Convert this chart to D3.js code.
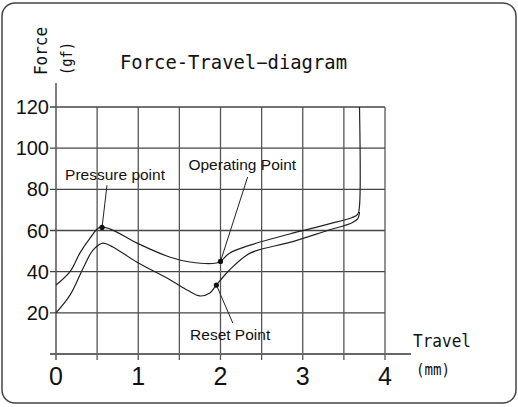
<!DOCTYPE html>
<html>
<head>
<meta charset="utf-8">
<script src="https://cdn.jsdelivr.net/npm/d3@7"></script>
<style>
  body { margin: 0; background: #fff; }
  text { fill: #111; }
</style>
</head>
<body>
<div id="chart"></div>
<script>
// values (travel in mm, force in gf)
let xTicks = [0, 1, 2, 3, 4]
let yTicks = [20, 40, 60, 80, 100, 120]
let xGrid = [0.5, 1, 1.5, 2, 2.5, 3, 3.5, 4]

let pressTravel = [0, 0.17, 0.29, 0.41, 0.53, 0.66, 0.98, 1.39, 1.63, 1.95, 2.0, 2.11, 2.36, 2.84, 3.3, 3.6, 3.67, 3.69, 3.69]
let pressForce = [33.5, 40, 49, 56, 61.5, 60.7, 54, 47, 44.7, 44.2, 45, 49, 52.9, 58.3, 63, 66.3, 68, 72, 120]

let releaseTravel = [0, 0.17, 0.33, 0.45, 0.57, 0.69, 0.98, 1.39, 1.6, 1.75, 1.87, 1.95, 2.11, 2.36, 2.84, 3.3, 3.6, 3.67, 3.69]
let releaseForce = [20, 28.6, 41.7, 50.5, 53.9, 52, 44.7, 36, 31, 28.2, 29.6, 33.5, 40.8, 49, 54.2, 60, 63.8, 65.8, 69]

let pointNames = ['Pressure point', 'Operating Point', 'Reset Point']
let pointTravel = [0.56, 2.0, 1.95]
let pointForce = [61.5, 45, 33.5]

let width = 518
let height = 407

let svg = d3
  .select('#chart')
  .append('svg')
  .attr('width', width)
  .attr('height', height)

// outer rounded frame
svg
  .append('rect')
  .attr('x', 2)
  .attr('y', 3)
  .attr('width', 514)
  .attr('height', 400)
  .attr('rx', 13)
  .attr('fill', 'none')
  .attr('stroke', '#444')
  .attr('stroke-width', 1.5)

let x = d3.scaleLinear().domain([0, 4]).range([56, 385])
let y = d3.scaleLinear().domain([0, 120]).range([354, 107])

// horizontal grid lines
svg
  .selectAll('.hgrid')
  .data(yTicks)
  .enter()
  .append('line')
  .attr('class', 'hgrid')
  .attr('x1', x(0) - 6)
  .attr('x2', x(4))
  .attr('y1', d => y(d))
  .attr('y2', d => y(d))
  .attr('stroke', '#444')
  .attr('stroke-width', 1.3)

// vertical grid lines
svg
  .selectAll('.vgrid')
  .data(xGrid)
  .enter()
  .append('line')
  .attr('class', 'vgrid')
  .attr('x1', d => x(d))
  .attr('x2', d => x(d))
  .attr('y1', y(120))
  .attr('y2', y(0) + 6)
  .attr('stroke', '#555')
  .attr('stroke-width', 1.3)

// axes
svg
  .append('line')
  .attr('x1', x(0))
  .attr('x2', x(0))
  .attr('y1', y(120) - 24)
  .attr('y2', y(0) + 6)
  .attr('stroke', '#555')
  .attr('stroke-width', 1.5)

svg
  .append('line')
  .attr('x1', x(0) - 6)
  .attr('x2', x(4) + 26)
  .attr('y1', y(0))
  .attr('y2', y(0))
  .attr('stroke', '#666')
  .attr('stroke-width', 2)

// tick labels
svg
  .selectAll('.ylabel')
  .data(yTicks)
  .enter()
  .append('text')
  .attr('class', 'ylabel')
  .attr('x', x(0) - 7)
  .attr('y', d => y(d) + 7)
  .attr('text-anchor', 'end')
  .attr('font-family', 'Liberation Sans, Arial, sans-serif')
  .attr('font-size', 20)
  .text(d => d)

svg
  .selectAll('.xlabel')
  .data(xTicks)
  .enter()
  .append('text')
  .attr('class', 'xlabel')
  .attr('x', d => x(d))
  .attr('y', 385)
  .attr('text-anchor', 'middle')
  .attr('font-family', 'Liberation Sans, Arial, sans-serif')
  .attr('font-size', 25)
  .text(d => d)

// curves
let line = d3
  .line()
  .x(d => x(d[0]))
  .y(d => y(d[1]))
  .curve(d3.curveCatmullRom.alpha(0.5))

let press = pressTravel.map((t, i) => [t, pressForce[i]])
let release = releaseTravel.map((t, i) => [t, releaseForce[i]])

svg
  .selectAll('.curve')
  .data([press, release])
  .enter()
  .append('path')
  .attr('class', 'curve')
  .attr('d', line)
  .attr('fill', 'none')
  .attr('stroke', '#222')
  .attr('stroke-width', 1.2)

// annotation leaders: label end in data units
let leaderTravel = [0.62, 2.33, 2.15]
let leaderForce = [82, 86, 15]
let labelTravel = [0.11, 1.61, 1.63]
let labelForce = [84.5, 89.5, 6.8]

svg
  .selectAll('.leader')
  .data(pointNames)
  .enter()
  .append('line')
  .attr('class', 'leader')
  .attr('x1', (d, i) => x(pointTravel[i]))
  .attr('y1', (d, i) => y(pointForce[i]))
  .attr('x2', (d, i) => x(leaderTravel[i]))
  .attr('y2', (d, i) => y(leaderForce[i]))
  .attr('stroke', '#222')
  .attr('stroke-width', 1)

svg
  .selectAll('.dot')
  .data(pointNames)
  .enter()
  .append('circle')
  .attr('class', 'dot')
  .attr('cx', (d, i) => x(pointTravel[i]))
  .attr('cy', (d, i) => y(pointForce[i]))
  .attr('r', 2.6)
  .attr('fill', '#111')

svg
  .selectAll('.pname')
  .data(pointNames)
  .enter()
  .append('text')
  .attr('class', 'pname')
  .attr('x', (d, i) => x(labelTravel[i]))
  .attr('y', (d, i) => y(labelForce[i]))
  .attr('font-family', 'Liberation Sans, Arial, sans-serif')
  .attr('font-size', 15.5)
  .text(d => d)

// titles
let mono = 'DejaVu Sans Mono, monospace'

svg
  .append('text')
  .attr('x', 120)
  .attr('y', 68.5)
  .attr('font-family', mono)
  .attr('font-size', 19)
  .attr('textLength', 227)
  .attr('lengthAdjust', 'spacingAndGlyphs')
  .text('Force-Travel−diagram')

svg
  .append('text')
  .attr('transform', 'translate(47,51) rotate(-90)')
  .attr('text-anchor', 'middle')
  .attr('font-family', mono)
  .attr('font-size', 18)
  .attr('textLength', 48)
  .attr('lengthAdjust', 'spacingAndGlyphs')
  .text('Force')

svg
  .append('text')
  .attr('transform', 'translate(72,58.5) rotate(-90)')
  .attr('text-anchor', 'middle')
  .attr('font-family', mono)
  .attr('font-size', 15)
  .attr('textLength', 33)
  .attr('lengthAdjust', 'spacingAndGlyphs')
  .text('(gf)')

svg
  .append('text')
  .attr('x', 413)
  .attr('y', 347)
  .attr('font-family', mono)
  .attr('font-size', 18)
  .attr('textLength', 58)
  .attr('lengthAdjust', 'spacingAndGlyphs')
  .text('Travel')

svg
  .append('text')
  .attr('x', 416)
  .attr('y', 375)
  .attr('font-family', mono)
  .attr('font-size', 16)
  .attr('textLength', 34)
  .attr('lengthAdjust', 'spacingAndGlyphs')
  .text('(mm)')
</script>
</body>
</html>
